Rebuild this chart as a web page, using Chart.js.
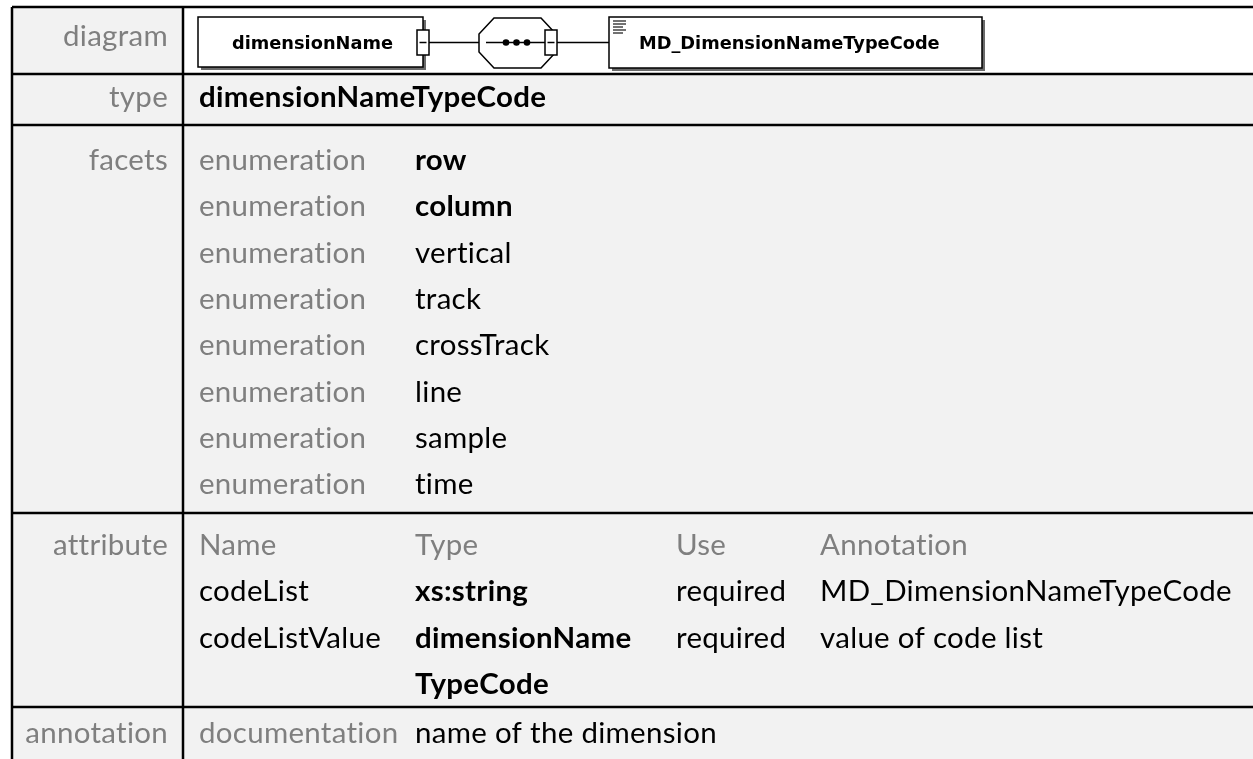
<!DOCTYPE html>
<html>
<head>
<meta charset="utf-8">
<script src="https://cdn.jsdelivr.net/npm/chart.js@4/dist/chart.umd.min.js"></script>
<style>
html,body{margin:0;padding:0;background:#fff;}
#c{display:block;}
</style>
</head>
<body>
<canvas id="c" width="1253" height="759"></canvas>
<script>
// ---------- data ----------
const rowLabels = ['diagram', 'type', 'facets', 'attribute', 'annotation'];
const diagramElement = 'dimensionName';
const diagramType = 'MD_DimensionNameTypeCode';
const typeName = 'dimensionNameTypeCode';
const facetKinds = ['enumeration','enumeration','enumeration','enumeration','enumeration','enumeration','enumeration','enumeration'];
const facetValues = ['row','column','vertical','track','crossTrack','line','sample','time'];
const facetBold = [true, true, false, false, false, false, false, false];
const attrHeaders = ['Name', 'Type', 'Use', 'Annotation'];
const attrNames = ['codeList', 'codeListValue'];
const attrTypes = [['xs:string'], ['dimensionName', 'TypeCode']];
const attrUses = ['required', 'required'];
const attrNotes = ['MD_DimensionNameTypeCode', 'value of code list'];
const annotationKind = 'documentation';
const annotationText = 'name of the dimension';

// ---------- layout (pixel units of the hidden linear scales) ----------
const W = 1253, H = 759;
const L = {
  left: 12, divider: 183, top: 7,
  rowLines: [74, 125, 513, 707],
  labelRight: 168, col2: 199, col3: 415, col4: 676, col5: 820,
  diagBase: 46, typeBase: 107, facetBase: 170, attrBase: 555, annBase: 743, lineStep: 46.3
};
const GRAY = '#7f7f7f', BLACK = '#000', CELL = '#f2f2f2';

const tablePlugin = {
  id: 'xsdTable',
  afterDraw(chart) {
    const ctx = chart.ctx;
    const sx = v => chart.scales.x.getPixelForValue(v);
    const sy = v => chart.scales.y.getPixelForValue(v);
    const fam = 'Lato, "Open Sans", sans-serif';
    ctx.save();
    if ('letterSpacing' in ctx) ctx.letterSpacing = '0.3px';
    ctx.font = `normal 100px ${fam}`;
    const FS = 100 * 165 / ctx.measureText('enumeration').width;
    const fN = `normal ${FS}px ${fam}`, fB = `bold ${FS}px ${fam}`;

    // backgrounds
    ctx.fillStyle = '#fff';
    ctx.fillRect(0, 0, W, H);
    ctx.fillStyle = CELL;
    ctx.fillRect(sx(L.left), sy(L.top), sx(W) - sx(L.left), sy(H) - sy(L.top));
    ctx.fillStyle = '#fff';
    ctx.fillRect(sx(L.divider), sy(L.top), sx(W) - sx(L.divider), sy(L.rowLines[0]) - sy(L.top));

    // grid lines
    ctx.strokeStyle = '#000';
    ctx.lineWidth = 2.5;
    ctx.beginPath();
    ctx.moveTo(sx(L.left), sy(L.top)); ctx.lineTo(sx(W), sy(L.top));
    L.rowLines.forEach(y => { ctx.moveTo(sx(L.left), sy(y)); ctx.lineTo(sx(W), sy(y)); });
    ctx.moveTo(sx(L.left), sy(L.top)); ctx.lineTo(sx(L.left), sy(H));
    ctx.moveTo(sx(L.divider), sy(L.top)); ctx.lineTo(sx(L.divider), sy(H));
    ctx.stroke();

    // row labels
    ctx.textBaseline = 'alphabetic';
    const labelBases = [L.diagBase, L.typeBase, L.facetBase, L.attrBase, L.annBase];
    ctx.font = fN; ctx.fillStyle = GRAY; ctx.textAlign = 'right';
    rowLabels.forEach((t, i) => ctx.fillText(t, sx(L.labelRight), sy(labelBases[i])));
    ctx.textAlign = 'left';

    // type row
    ctx.font = fB; ctx.fillStyle = BLACK;
    ctx.fillText(typeName, sx(L.col2), sy(L.typeBase));

    // facets
    facetKinds.forEach((k, i) => {
      const y = sy(L.facetBase + i * L.lineStep);
      ctx.font = fN; ctx.fillStyle = GRAY; ctx.fillText(k, sx(L.col2), y);
      ctx.font = facetBold[i] ? fB : fN; ctx.fillStyle = BLACK; ctx.fillText(facetValues[i], sx(L.col3), y);
    });

    // attributes
    const cols = [L.col2, L.col3, L.col4, L.col5];
    ctx.font = fN; ctx.fillStyle = GRAY;
    attrHeaders.forEach((h, i) => ctx.fillText(h, sx(cols[i]), sy(L.attrBase)));
    let line = 1;
    attrNames.forEach((n, i) => {
      const y = L.attrBase + line * L.lineStep;
      ctx.fillStyle = BLACK;
      ctx.font = fN; ctx.fillText(n, sx(cols[0]), sy(y));
      ctx.font = fB;
      attrTypes[i].forEach((t, j) => ctx.fillText(t, sx(cols[1]), sy(y + j * L.lineStep)));
      ctx.font = fN;
      ctx.fillText(attrUses[i], sx(cols[2]), sy(y));
      ctx.fillText(attrNotes[i], sx(cols[3]), sy(y));
      line += attrTypes[i].length;
    });

    // annotation
    ctx.font = fN; ctx.fillStyle = GRAY;
    ctx.fillText(annotationKind, sx(L.col2), sy(L.annBase));
    ctx.fillStyle = BLACK;
    ctx.fillText(annotationText, sx(L.col3), sy(L.annBase));

    // ---------- diagram ----------
    if ('letterSpacing' in ctx) ctx.letterSpacing = '0px';
    const dfam = '"DejaVu Sans", Verdana, sans-serif';
    ctx.font = `bold 100px ${dfam}`;
    const DF = 100 * 161 / ctx.measureText(diagramElement).width;
    const cy = 42.5;
    const box = (x0, x1, y0, y1) => {
      ctx.fillStyle = '#6a6a6a';
      ctx.fillRect(sx(x0) + 3, sy(y0) + 3, sx(x1) - sx(x0), sy(y1) - sy(y0));
      ctx.fillStyle = '#fff';
      ctx.fillRect(sx(x0), sy(y0), sx(x1) - sx(x0), sy(y1) - sy(y0));
      ctx.strokeStyle = '#000'; ctx.lineWidth = 1.5;
      ctx.strokeRect(sx(x0), sy(y0), sx(x1) - sx(x0), sy(y1) - sy(y0));
    };
    const minus = (x0, x1, y0, y1) => {
      ctx.fillStyle = '#fff';
      ctx.fillRect(sx(x0), sy(y0), sx(x1) - sx(x0), sy(y1) - sy(y0));
      ctx.strokeStyle = '#000'; ctx.lineWidth = 1.5;
      ctx.strokeRect(sx(x0), sy(y0), sx(x1) - sx(x0), sy(y1) - sy(y0));
      ctx.beginPath(); ctx.moveTo(sx(x0) + 2.5, sy(cy)); ctx.lineTo(sx(x1) - 2.5, sy(cy)); ctx.stroke();
    };
    // connectors
    ctx.strokeStyle = '#000'; ctx.lineWidth = 1.5;
    ctx.beginPath(); ctx.moveTo(sx(429), sy(cy)); ctx.lineTo(sx(610), sy(cy)); ctx.stroke();

    // element box
    box(198, 423, 17, 67);
    ctx.font = `bold ${DF}px ${dfam}`; ctx.fillStyle = '#000';
    ctx.textAlign = 'left';
    ctx.fillText(diagramElement, sx(232), sy(49));
    minus(417, 429, 30, 55);

    // sequence compositor (octagon)
    const ox0 = 479, ox1 = 556, oy0 = 18, oy1 = 68, cx = 15, cyy = 16;
    ctx.fillStyle = '#fff';
    ctx.beginPath();
    ctx.moveTo(sx(ox0 + cx), sy(oy0)); ctx.lineTo(sx(ox1 - cx), sy(oy0));
    ctx.lineTo(sx(ox1), sy(oy0 + cyy)); ctx.lineTo(sx(ox1), sy(oy1 - cyy));
    ctx.lineTo(sx(ox1 - cx), sy(oy1)); ctx.lineTo(sx(ox0 + cx), sy(oy1));
    ctx.lineTo(sx(ox0), sy(oy1 - cyy)); ctx.lineTo(sx(ox0), sy(oy0 + cyy));
    ctx.closePath(); ctx.fill();
    ctx.strokeStyle = '#000'; ctx.lineWidth = 1.5; ctx.stroke();
    ctx.beginPath(); ctx.moveTo(sx(486), sy(cy)); ctx.lineTo(sx(546), sy(cy)); ctx.stroke();
    ctx.fillStyle = '#000';
    [506, 516.5, 527].forEach(x => { ctx.beginPath(); ctx.arc(sx(x), sy(cy), 3.3, 0, Math.PI * 2); ctx.fill(); });
    minus(545, 557, 30, 55);

    // type box
    box(609, 982, 17, 68);
    ctx.fillStyle = '#000';
    ctx.fillText(diagramType, sx(639), sy(49));
    // simple-type icon
    ctx.strokeStyle = '#444'; ctx.lineWidth = 1.3;
    ctx.beginPath();
    [[613, 626, 21], [613, 626, 24], [613, 623, 27], [613, 626, 30], [613, 623, 33]].forEach(([a, b, y]) => {
      ctx.moveTo(sx(a), sy(y)); ctx.lineTo(sx(b), sy(y));
    });
    ctx.stroke();
    ctx.restore();
  }
};

new Chart(document.getElementById('c'), {
  type: 'scatter',
  data: { datasets: [] },
  options: {
    responsive: false,
    animation: false,
    events: [],
    layout: { padding: 0 },
    plugins: { legend: { display: false }, tooltip: { enabled: false }, title: { display: false } },
    scales: {
      x: { type: 'linear', display: false, min: 0, max: W },
      y: { type: 'linear', display: false, min: 0, max: H, reverse: true }
    }
  },
  plugins: [tablePlugin]
});
</script>
</body>
</html>
